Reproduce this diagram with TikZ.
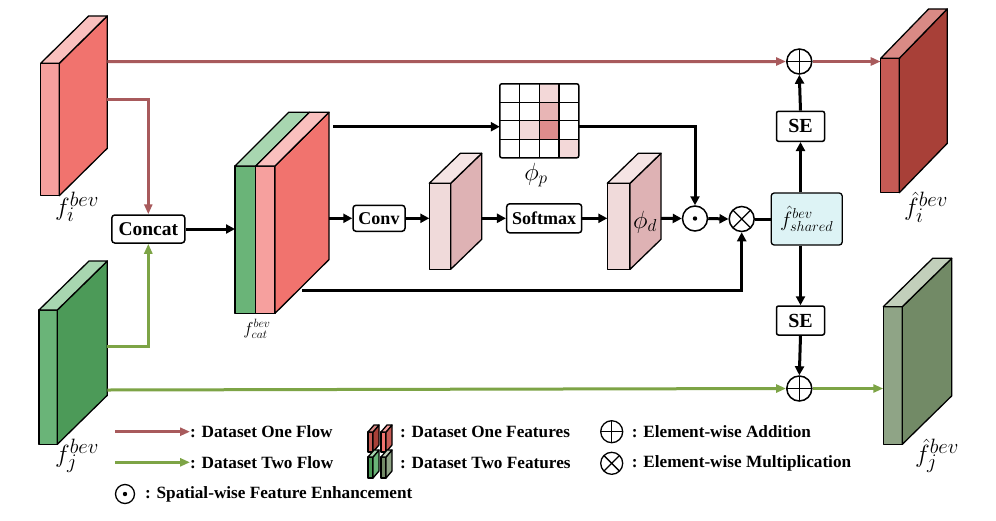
\documentclass[tikz,border=0pt]{standalone}
\usepackage{fontspec}
\setmainfont{Liberation Serif}
\usetikzlibrary{arrows.meta,calc}
\definecolor{rflow}{RGB}{168,90,92}
\definecolor{gflow}{RGB}{125,164,70}
\definecolor{fiF}{RGB}{246,160,158}
\definecolor{fiS}{RGB}{241,115,110}
\definecolor{fiT}{RGB}{250,192,190}
\definecolor{fjF}{RGB}{106,180,120}
\definecolor{fjS}{RGB}{76,154,88}
\definecolor{fjT}{RGB}{168,214,176}
\definecolor{mdF}{RGB}{240,218,218}
\definecolor{mdS}{RGB}{222,178,180}
\definecolor{mdT}{RGB}{245,228,228}
\definecolor{hiF}{RGB}{198,91,85}
\definecolor{hiS}{RGB}{168,64,56}
\definecolor{hiT}{RGB}{217,138,133}
\definecolor{hjF}{RGB}{143,164,134}
\definecolor{hjS}{RGB}{114,138,102}
\definecolor{hjT}{RGB}{194,207,187}
\definecolor{shfill}{RGB}{221,243,245}
\definecolor{gL}{RGB}{243,216,216}
\definecolor{gM}{RGB}{232,181,181}
\definecolor{gD}{RGB}{222,140,140}
\newcommand{\slab}[9]{%
  \filldraw[fill=#7,draw=black,line width=1.3pt,line join=round] (#1,#2) rectangle ++(#3,#4);
  \filldraw[fill=#8,draw=black,line width=1.3pt,line join=round] ({#1+#3},#2) -- ++(#5,-#6) -- ++(0,#4) -- ({#1+#3},{#2+#4}) -- cycle;
  \filldraw[fill=#9,draw=black,line width=1.3pt,line join=round] (#1,#2) -- ++(#5,-#6) -- ++(#3,0) -- ({#1+#3},#2) -- cycle;
}
\tikzset{
  opbox/.style={draw, line width=1.5pt, rounded corners=3pt, fill=white, inner sep=0pt, font=\bfseries\fontsize{18}{20}\selectfont},
  opc/.style={circle, draw, line width=1.5pt, minimum size=25pt, inner sep=0pt, fill=white},
  plusop/.style={opc, path picture={\draw[black,line width=1.3pt] (path picture bounding box.north) -- (path picture bounding box.south) (path picture bounding box.west) -- (path picture bounding box.east);}},
  timesop/.style={opc, path picture={\draw[black,line width=1.3pt] ($(path picture bounding box.center)+(45:13)$) -- ($(path picture bounding box.center)+(225:13)$) ($(path picture bounding box.center)+(135:13)$) -- ($(path picture bounding box.center)+(315:13)$);}},
  dotop/.style={opc, path picture={\fill[black] (path picture bounding box.center) circle (2.2pt);}},
  blk/.style={line width=3pt, -{Triangle[length=9pt,width=9pt]}},
  blkn/.style={line width=3pt},
  rf/.style={rflow, line width=3pt, -{Triangle[length=10pt,width=8pt]}},
  gf/.style={gflow, line width=3pt, -{Triangle[length=10pt,width=8pt]}},
  lbl/.style={inner sep=0pt, font=\fontsize{30}{32}\selectfont},
  legtxt/.style={anchor=west, inner sep=0pt, font=\bfseries\fontsize{17.2}{18}\selectfont},
}
\begin{document}
\begin{tikzpicture}[x=1pt,y=-1pt]
\useasboundingbox[fill=white] (0,0) rectangle (996,520);

% ---------- input slabs ----------
\slab{40.7}{63.3}{18.6}{132.4}{48}{47.4}{fiF}{fiS}{fiT}
\slab{39}{310}{18.3}{134.3}{50}{49}{fjF}{fjS}{fjT}
\coordinate (fi1) at (107.3,61.7);
\coordinate (fi2) at (107.3,99);
\coordinate (fj2) at (107.3,346.7);
\coordinate (fj1) at (107.3,390);
\node[lbl] (lfi) at (77,207) {$f_{i}^{bev}$};
\node[lbl] (lfj) at (77,456) {$f_{j}^{bev}$};

% ---------- concat ----------
\node[opbox, minimum width=73pt, minimum height=28pt, font=\bfseries\fontsize{19.5}{20}\selectfont] (concat) at (148.3,229) {Concat};
\draw[rf] (fi2) -| (concat.north);
\draw[gf] (fj2) -| (concat.south);

% ---------- f_cat ----------
\filldraw[fill=fjF,line width=1.3pt,line join=round] (235,166) rectangle (255.7,313.3);
\filldraw[fill=fiF,line width=1.3pt,line join=round] (255.7,166) rectangle (275,313.3);
\filldraw[fill=fiS,line width=1.3pt,line join=round] (275,166) -- (329,112.3) -- (329,259.6) -- (275,313.3) -- cycle;
\filldraw[fill=fjT,line width=1.3pt,line join=round] (235,166) -- (288.7,112.3) -- (309.4,112.3) -- (255.7,166) -- cycle;
\filldraw[fill=fiT,line width=1.3pt,line join=round] (255.7,166) -- (309.4,112.3) -- (329,112.3) -- (275,166) -- cycle;
\coordinate (fcatin) at (235,229);
\coordinate (fcatA) at (333,126.7);
\coordinate (fcatB) at (329,218.3);
\coordinate (fcatC) at (302,290.5);
\node[inner sep=0pt, font=\fontsize{18}{20}\selectfont] (lfcat) at (257,329) {$f_{cat}^{bev}$};
\draw[blk] (concat.east) -- (fcatin);

% ---------- conv & middle slab ----------
\node[opbox, minimum width=52pt, minimum height=26pt] (conv) at (379,218.3) {Conv};
\draw[blk] (fcatB) -- (conv.west);
\slab{429.3}{183.3}{21.4}{86}{31}{30}{mdF}{mdS}{mdT}
\coordinate (midin) at (429.3,218.3);
\coordinate (midout) at (481.7,218.3);
\draw[blk] (conv.east) -- (midin);
\node[opbox, minimum width=75pt, minimum height=29pt] (softmax) at (544.2,218.3) {Softmax};
\draw[blk] (midout) -- (softmax.west);

% ---------- phi_d slab ----------
\slab{607.3}{183.3}{22.7}{86}{31}{30}{mdF}{mdS}{mdT}
\coordinate (phidin) at (607.3,218.3);
\coordinate (phidout) at (661,218.3);
\node[inner sep=0pt, font=\fontsize{25}{26}\selectfont] (lphid) at (645,222) {$\phi_{d}$};
\draw[blk] (softmax.east) -- (phidin);

% ---------- grid phi_p ----------
\node[minimum width=79pt, minimum height=74pt, inner sep=0pt] (grid) at (539.5,121) {};
\begin{scope}[shift={(grid.north west)}]
  \fill[gL] (39.5,0) rectangle (59.25,18.5);
  \fill[gM] (39.5,18.5) rectangle (59.25,37);
  \fill[gL] (19.75,37) rectangle (39.5,55.5);
  \fill[gD] (39.5,37) rectangle (59.25,55.5);
  \fill[gL] (59.25,55.5) rectangle (79,74);
  \foreach \i in {1,2,3} {
    \draw[line width=1.3pt] ({19.75*\i},0) -- ({19.75*\i},74);
    \draw[line width=1.3pt] (0,{18.5*\i}) -- (79,{18.5*\i});
  }
  \draw[line width=1.5pt, rounded corners=2pt] (0,0) rectangle (79,74);
\end{scope}
\node[inner sep=0pt, font=\fontsize{23}{24}\selectfont] (lphip) at (536,175) {$\phi_{p}$};
\draw[blk] (fcatA) -- (fcatA -| grid.west);

% ---------- ops ----------
\node[dotop] (odot) at (695,218.5) {};
\node[timesop] (otimes) at (741.7,219) {};
\draw[blk] (grid.east |- fcatA) -| (odot.north);
\draw[blk] (phidout) -- (odot.west);
\draw[blk] (odot.east) -- (otimes.west);
\draw[blk] (fcatC) -| (otimes.south);

% ---------- shared ----------
\node[draw, line width=1.3pt, rounded corners=3pt, fill=shfill, minimum width=71pt, minimum height=52pt, inner sep=0pt, font=\fontsize{22.5}{24}\selectfont] (shared) at (806.7,219) {$\hat{f}_{shared}^{bev}$};
\draw[blkn] (otimes.east) -- (shared.west);
\node[opbox, rounded corners=2pt, minimum width=48pt, minimum height=30pt, font=\bfseries\fontsize{20}{20}\selectfont] (se1) at (800.5,126.3) {SE};
\node[opbox, rounded corners=2pt, minimum width=48pt, minimum height=29pt, font=\bfseries\fontsize{20}{20}\selectfont] (se2) at (800.5,320.5) {SE};
\node[plusop] (plus1) at (799.3,61.5) {};
\node[plusop] (plus2) at (799.3,388.5) {};
\draw[blk] (se1.south |- shared.north) -- (se1.south);
\draw[blk] (se1.north) -- (plus1.south);
\draw[blk] (se2.north |- shared.south) -- (se2.north);
\draw[blk] (se2.south) -- (plus2.north);

% ---------- outputs ----------
\slab{880.7}{58.3}{18.6}{134.4}{48}{49.4}{hiF}{hiS}{hiT}
\slab{883.3}{306.7}{19}{137.6}{49.4}{48.4}{hjF}{hjS}{hjT}
\coordinate (fhi) at (880.7,61.5);
\coordinate (fhj) at (883.3,388.5);
\node[lbl] (lfhi) at (926,207) {$\hat{f}_{i}^{bev}$};
\node[lbl] (lfhj) at (937,456) {$\hat{f}_{j}^{bev}$};
\draw[rf] (fi1) -- (plus1.west);
\draw[rf] (plus1.east) -- (fhi);
\draw[gf] (fj1) -- (plus2.west);
\draw[gf] (plus2.east) -- (fhj);

% ---------- legend ----------
\coordinate (lr0) at (115,431.7);
\node[legtxt] (lr) at (190,431.7) {: Dataset One Flow};
\draw[rf] (lr0) -- (lr.west);
\coordinate (lg0) at (115,462.3);
\node[legtxt] (lg) at (190,462.3) {: Dataset Two Flow};
\draw[gf] (lg0) -- (lg.west);
\node[dotop, minimum size=19pt, line width=1.3pt] (ldot) at (125,494) {};
\node[legtxt] (ldt) at (145,494) {: Spatial-wise Feature Enhancement};

\slab{368}{432}{5}{20}{6}{7}{hiF}{hiS}{hiT}
\slab{381}{432}{5}{20}{6}{7}{fiS}{hiF}{fiF}
\node[legtxt] (l1f) at (400,432) {: Dataset One Features};
\slab{368}{457}{5}{21}{6}{7}{fjS}{fjF}{fjT}
\slab{381}{457}{5}{21}{6}{7}{hjS}{hjF}{hjT}
\node[legtxt] (l2f) at (400,463) {: Dataset Two Features};

\node[plusop, minimum size=22pt, line width=1.3pt] (lplus) at (611.7,431.7) {};
\node[legtxt] (lpt) at (631.7,431.7) {: Element-wise Addition};
\node[timesop, minimum size=22pt, line width=1.3pt] (ltimes) at (611.7,463.3) {};
\node[legtxt] (ltt) at (631.7,463.3) {: Element-wise Multiplication};
\end{tikzpicture}
\end{document}
